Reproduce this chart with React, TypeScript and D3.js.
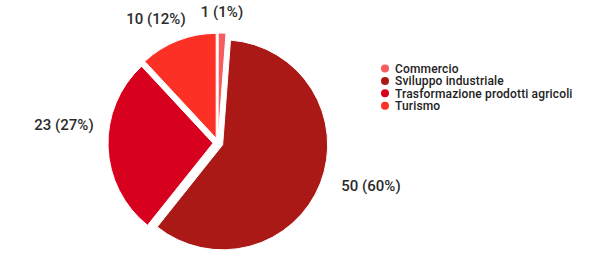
import React from "react";
import * as d3 from "d3";

const categories = ["Commercio", "Sviluppo industriale", "Trasformazione prodotti agricoli", "Turismo"];
const values = [1, 50, 23, 10];
const labels = ["1 (1%)", "50 (60%)", "23 (27%)", "10 (12%)"];
const colors = ["#f65d5f", "#ab1916", "#d7001e", "#fd3026"];

export default function App() {
  const W = 599, H = 256;
  const cx = 218, cy = 143, R = 105, off = 5;
  const pie = d3.pie<number>().sort(null).value((d) => d);
  const arcs = pie(values);
  const arc = d3.arc<d3.PieArcDatum<number>>().innerRadius(0).outerRadius(R);
  const labelPos: [number, number, string][] = [
    [222, 17, "middle"],
    [371, 191, "middle"],
    [64, 130, "middle"],
    [156, 24, "middle"],
  ];
  const legendY = d3.scaleLinear().domain([0, 1]).range([68.5, 80.9]);
  return (
    <div style={{ position: "absolute", left: 0, top: 0 }}>
      <svg width={W} height={H} style={{ display: "block", fontFamily: "Roboto, sans-serif" }}>
        <rect width={W} height={H} fill="#fff" />
        <g transform={`translate(${cx},${cy})`}>
          {arcs.map((a, i) => {
            const mid = (a.startAngle + a.endAngle) / 2;
            const dx = Math.sin(mid) * off;
            const dy = -Math.cos(mid) * off;
            return (
              <path key={i} d={arc(a) || ""} transform={`translate(${dx},${dy})`} fill={colors[i]} stroke="#fff" strokeWidth={1} strokeLinejoin="round" />
            );
          })}
        </g>
        {labels.map((t, i) => (
          <text key={i} x={labelPos[i][0]} y={labelPos[i][1]} textAnchor={labelPos[i][2] as any} fontSize={15} fontWeight={500} fill="#2b2b2b">
            {t}
          </text>
        ))}
        {categories.map((c, i) => (
          <g key={c} transform={`translate(385,${legendY(i)})`}>
            <circle r={4} fill={colors[i]} />
            <text x={10} y={4.2} fontSize={12} fontWeight={500} letterSpacing={0.15} fill="#222">{c}</text>
          </g>
        ))}
      </svg>
    </div>
  );
}
